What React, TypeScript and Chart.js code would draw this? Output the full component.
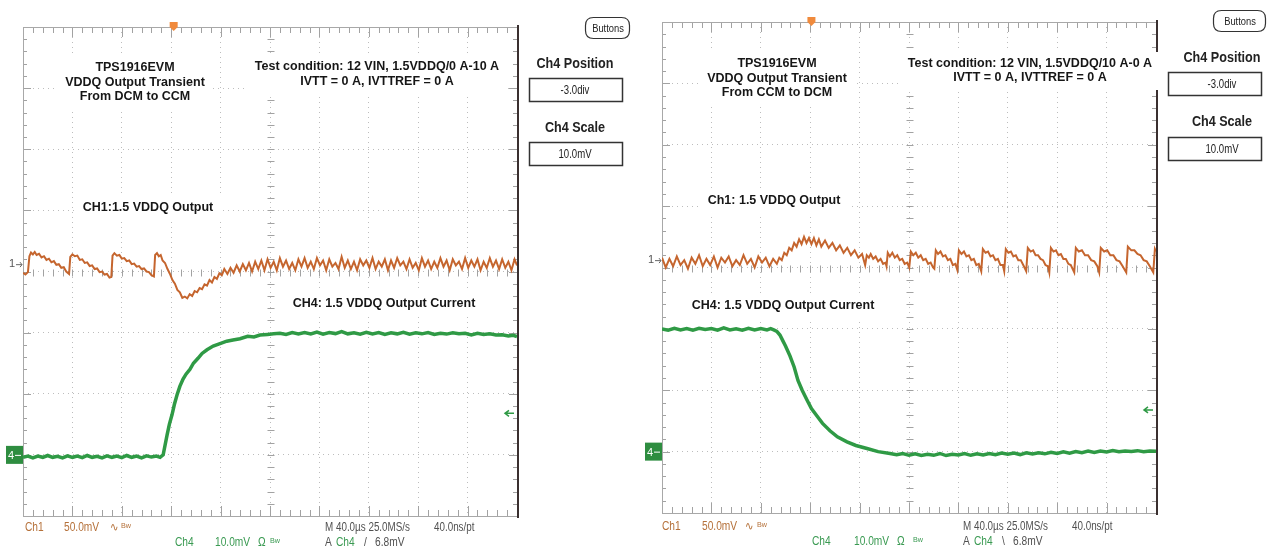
import { useEffect, useRef } from "react";
import { Chart, registerables } from "chart.js";

Chart.register(...registerables);

type Pt = [number, number];

// ---------- axis setup (oscilloscope screen) ----------
const TIME_RANGE_US: [number, number] = [0, 400]; // 40 µs/div, 10 div
const TIME_PER_DIV_US = 40;
const MINOR_PER_DIV = 5;
const DIVS_Y = 8;
const CH1_MV_PER_DIV = 50;
const CH4_A_PER_DIV = 5; // 10 A = 2 div
const CH4_POSITION_DIV = -3.0;
const TRIGGER_LEVEL_DIV = 0.68; // 6.8 mV at 10 mV/div

// ---------- data: [time µs, value] ----------
// Ch1 = VDDQ deviation in mV, Ch4 = output current in A
const leftCh1: Pt[] = [
  [0, -7], [2, -8.5], [4, -6.5], [5.2, 6.5], [6.5, 9.5], [8, 8], [9.5, 10], [11, 7.5], [13, 8.5], [15, 5.5], [17, 6.5], [19, 3.5], [21, 4.5], [23, 1.5], [25, 2.5], [27, -0.5], [29, 0], [31, -3], [33, -2.5], [35, -6], [37.3, -8],
  [38.3, 6], [40, 8], [42, 6.5], [44, 7], [46, 3.5], [48, 4], [50, 1], [52, 1.5], [54, -1.5], [56, -1], [58, -4], [60, -3.5], [62, -6.5], [64, -6], [66, -8.5], [68, -8], [70, -11], [71.5, -10.5],
  [72.5, 7], [74, 9], [76, 7], [78, 7.5], [80, 4.5], [82, 5], [84, 2.5], [86, 3], [88, 0], [90, 0.5], [92, -2], [94, -1.5], [96, -4], [98, -3.5], [100, -6], [102, -6.5], [104, -9], [106, -10],
  [107, 7.5], [108.5, 9], [110, 6.5], [111.5, 7.5], [113, 3], [115, 1], [117, -4], [119, -8], [121, -13], [123, -16], [125, -21], [127, -23], [129, -27.5], [131, -26.5], [133, -28], [135, -24.5], [137, -26], [139, -22], [141, -23], [143, -19.5], [145, -20.5], [147, -16.5], [149, -17.5], [151, -13], [153, -15], [155, -10.5], [157, -12], [159, -7.5], [161, -9],
  [163, -4], [165.5, -8], [168, -3], [170.5, -7], [173, -1], [175.5, -6], [178, 0], [180.5, -5], [183, 1], [185.5, -6], [188, 2], [190.5, -4], [193, 3], [195.5, -5], [198, 4], [200.5, -3], [203, 2], [205.5, -5], [208, 5], [210.5, -2], [213, 3], [215.5, -4], [218, 1], [220.5, -5], [223, 4], [225.5, -2], [228, 5], [230.5, -3], [233, 2], [235.5, -4], [238, 5], [240.5, -1], [243, 3], [245.5, -5], [248, 4], [250.5, -2], [253, 1], [255.5, -4], [258, 6], [260.5, -3], [263, 3], [265.5, -4], [268, 2], [270.5, -5], [273, 4], [275.5, -1], [278, 3], [280.5, -3], [283, 5], [285.5, -4], [288, 2], [290.5, -2], [293, 4], [295.5, -5], [298, 3], [300.5, -3], [303, 5], [305.5, -1], [308, 2], [310.5, -4], [313, 4], [315.5, -3], [318, 1], [320.5, -5], [323, 5], [325.5, -2], [328, 3], [330.5, -4], [333, 2], [335.5, -3], [338, 5], [340.5, -2], [343, 3], [345.5, -5], [348, 4], [350.5, -1], [353, 2], [355.5, -4], [358, 5], [360.5, -3], [363, 3], [365.5, -2], [368, 4], [370.5, -5], [373, 2], [375.5, -3], [378, 5], [380.5, -2], [383, 3], [385.5, -4], [388, 4], [390.5, -3], [393, 2], [395.5, -5], [398, 4], [400, -1],
];

const leftCh4: Pt[] = [
  [0, -0.2], [4, -0.1], [8, -0.25], [12, -0.1], [16, -0.2], [20, -0.05], [24, -0.2], [28, -0.12], [32, -0.25], [36, -0.08], [40, -0.2], [44, -0.1], [48, -0.22], [52, -0.05], [56, -0.2], [60, -0.12], [64, -0.25], [68, -0.08], [72, -0.2], [76, -0.1], [80, -0.22], [84, -0.05], [88, -0.2], [92, -0.1], [96, -0.25], [100, -0.08], [104, -0.18], [108, -0.1], [111, -0.2], [113.5, 0.0],
  [116.6, 1.6], [118.5, 2.5], [120.7, 3.3], [122.5, 4.1], [124.7, 4.9], [127, 5.6], [129.6, 6.2], [132, 6.6], [135.2, 7.0], [138, 7.5], [141.7, 7.9], [145, 8.3], [149, 8.6], [154, 8.9], [159.5, 9.1], [165, 9.3], [170, 9.4], [175.7, 9.5], [182, 9.7], [187, 9.65], [191.9, 9.8], [198, 9.85], [203, 9.9], [208, 9.95],
  [213, 9.85], [218, 10.0], [223, 9.9], [228, 10.0], [233, 9.9], [238, 10.05], [243, 9.88], [248, 10.0], [253, 9.92], [258, 10.08], [263, 9.9], [268, 9.98], [273, 9.88], [278, 10.02], [283, 9.9], [288, 10.0], [293, 9.85], [298, 9.98], [303, 9.9], [308, 10.02], [313, 9.88], [318, 9.98], [323, 9.9], [328, 10.0], [333, 9.85], [338, 9.95], [343, 9.88], [348, 9.98], [353, 9.9], [358, 9.95], [363, 9.82], [368, 9.95], [373, 9.85], [378, 9.9], [383, 9.8], [388, 9.82], [393, 9.72], [397, 9.78], [400, 9.68],
];

const rightCh1: Pt[] = [
  [0, 2], [3, -6], [6, 1], [9, -5], [12, 3], [15, -4], [18, 0], [21, -7], [24, 2], [27, -3], [30, 4], [33, -5], [36, 1], [39, -4], [42, 3], [45, -6], [48, 2], [51, -2], [54, 3], [57, -5], [60, 0], [63, -4], [66, 4], [69, -3], [72, 1], [75, -6], [78, 3], [81, -2], [84, 2], [87, -5], [90, 1], [93, -3],
  [95, 2], [97, 0], [99, 6], [101, 4], [103, 10], [105, 8], [107, 14], [109, 11], [111, 17], [113, 13], [115, 19], [117, 14], [119, 18], [121, 13], [123, 18], [125, 12], [127, 17], [129, 11], [132, 16], [135, 10], [138, 14], [141, 8], [144, 12], [147, 6], [150, 10], [153, 4], [156, 8], [159, 2], [162, 5],
  [164.5, -4], [165.8, 4], [167.5, 2], [169, 5], [171, 1], [173, 3], [175, -1], [177, 1], [179, -3], [181, -2], [181.8, -5],
  [182.8, 6], [184.5, 3], [186.5, 6], [188.5, 2], [190.5, 4], [192.5, 0], [194.5, 1], [196.5, -3], [198.5, -2], [200.2, -6],
  [201.5, 7], [203.5, 4], [205.5, 6], [207.5, 2], [209.5, 4], [211.5, 0], [213.5, 1], [215.5, -3], [217.5, -2], [219.5, -6], [220.5, -7],
  [221.7, 8], [223.5, 5], [225.5, 7], [227.5, 3], [229.5, 4], [231.5, 0], [233.5, 1], [235.5, -4], [237.5, -3], [239.1, -8],
  [240.4, 8], [242.5, 5], [244.5, 7], [246.5, 3], [248.5, 4], [250.5, 0], [252.5, 1], [254.5, -4], [256.5, -3], [258.5, -9],
  [259.8, 9], [262, 6], [264, 7], [266, 3], [268, 4], [270, 0], [272, 1], [274, -4], [276, -4], [277.1, -9],
  [278.4, 9], [280.5, 6], [282.5, 7], [284.5, 3], [286.5, 4], [288.5, 0], [290.5, 0], [292.5, -4], [294.9, -9],
  [296.2, 10], [298.5, 7], [300.5, 8], [302.5, 4], [304.5, 4], [306.5, 1], [308.5, 0], [310.5, -4], [312.5, -5], [313.6, -10],
  [314.9, 10], [317, 7], [319, 8], [321, 4], [323, 5], [325, 1], [327, 1], [329, -3], [331, -4], [333.8, -10],
  [335.1, 10], [337.5, 7], [340, 8], [342.5, 4], [345, 4], [347.5, 0], [350, -1], [352.5, -5], [354, -10],
  [355.3, 10], [358, 7], [360.5, 8], [363, 4], [365.5, 4], [368, 0], [370.5, -1], [373, -5], [375.9, -10],
  [377.2, 11], [380, 8], [382.5, 8], [385, 5], [387.5, 4], [390, 0], [392.5, -1], [395, -5], [397.8, -10],
  [399.1, 9], [400, 7],
];

const rightCh4: Pt[] = [
  [0, 10.0], [5, 9.9], [10, 10.05], [15, 9.92], [20, 10.02], [25, 9.9], [30, 10.05], [35, 9.95], [40, 10.02], [45, 9.9], [50, 10.08], [55, 9.92], [60, 10.0], [65, 9.9], [70, 10.05], [75, 9.92], [80, 10.02], [85, 9.92], [88, 10.02], [90.5, 9.92],
  [93, 9.8], [95.5, 9.5], [98, 9.0], [100, 8.6], [103.6, 7.8], [107, 6.9], [110.1, 5.8], [113.5, 5.0], [117.4, 4.2], [121, 3.5], [125.5, 2.9], [130, 2.3], [136, 1.7], [142, 1.2], [149.8, 0.8], [157, 0.5], [166, 0.25], [175, 0.0], [184.6, -0.15],
  [190, -0.25], [195, -0.15], [200, -0.3], [205, -0.18], [210, -0.32], [215, -0.22], [220, -0.3], [225, -0.15], [230, -0.32], [235, -0.22], [240, -0.28], [245, -0.15], [250, -0.3], [255, -0.18], [260, -0.27], [265, -0.15], [270, -0.25], [275, -0.12], [280, -0.22], [285, -0.12], [290, -0.24], [295, -0.1], [300, -0.2], [305, -0.1], [310, -0.18], [315, -0.05], [320, -0.15], [325, -0.02], [330, -0.12], [335, 0], [340, -0.08], [345, 0.05], [350, -0.06], [355, 0.05], [360, -0.03], [365, 0.08], [370, 0], [375, 0.06], [380, 0.02], [385, 0.08], [390, 0], [395, 0.06], [400, 0.04],
];

// ---------- text ----------
const leftTitle = ["TPS1916EVM", "VDDQ Output Transient", "From DCM to CCM"];
const rightTitle = ["TPS1916EVM", "VDDQ Output Transient", "From CCM to DCM"];
const leftCondition = ["Test condition: 12 VIN, 1.5VDDQ/0 A-10 A", "IVTT = 0 A, IVTTREF = 0 A"];
const rightCondition = ["Test condition: 12 VIN, 1.5VDDQ/10 A-0 A", "IVTT = 0 A, IVTTREF = 0 A"];
const leftCh1Label = "CH1:1.5 VDDQ Output";
const rightCh1Label = "Ch1: 1.5 VDDQ Output";
const ch4Label = "CH4: 1.5 VDDQ Output Current";
const sideLabels = { buttons: "Buttons", pos: "Ch4 Position", posVal: "-3.0div", scale: "Ch4 Scale", scaleVal: "10.0mV" };
const statusText = { ch1: "Ch1", v1: "50.0mV", cpl1: "∿", bw: "Bw", ch4: "Ch4", v4: "10.0mV", ohm: "Ω", m: "M 40.0µs 25.0MS/s", pt: "40.0ns/pt", a: "A", level: "6.8mV" };

const FONT = '"Liberation Sans", Arial, sans-serif';
const ORANGE = "#c5652e";
const GREEN = "#2f9a45";
const GRID = "#bdbdbd";
const W = 635;
const H = 548;

interface Panel {
  key: string;
  area: { l: number; t: number; r: number; b: number };
  ch1: Pt[];
  ch4: Pt[];
  ch1Pos: number;
  triggerUs: number;
  title: string[]; titleX: number; titleY: number; titleLh: number;
  cond: string[]; condX: number; condY: number; condLh: number;
  ch1Label: string; ch1LabelX: number; ch1LabelY: number;
  ch4LabelX: number; ch4LabelY: number;
  side: { cx: number; bx: number; by: number; bw: number; bh: number; posY: number; box1Y: number; scaleY: number; box2Y: number; boxX: number; boxW: number; boxH: number };
  st: { y1: number; y2: number; ch1: number; v1: number; cpl: number; bw1: number; ch4: number; v4: number; ohm: number; bw4: number; m: number; pt: number };
  slope: string;
}

const panels: Panel[] = [
  {
    key: "L", area: { l: 23, t: 27, r: 517, b: 516 }, ch1: leftCh1, ch4: leftCh4, ch1Pos: 0.12, triggerUs: 122,
    title: leftTitle, titleX: 135, titleY: 68, titleLh: 14.5,
    cond: leftCondition, condX: 377, condY: 67, condLh: 15,
    ch1Label: leftCh1Label, ch1LabelX: 148, ch1LabelY: 208,
    ch4LabelX: 384, ch4LabelY: 304,
    side: { cx: 575, bx: 585, by: 17, bw: 44, bh: 21, posY: 64, box1Y: 78, scaleY: 128, box2Y: 142, boxX: 529, boxW: 93, boxH: 23 },
    st: { y1: 528, y2: 543, ch1: 25, v1: 64, cpl: 110, bw1: 121, ch4: 175, v4: 215, ohm: 258, bw4: 270, m: 325, pt: 434 },
    slope: "/",
  },
  {
    key: "R", area: { l: 27, t: 22, r: 521, b: 513 }, ch1: rightCh1, ch4: rightCh4, ch1Pos: 0.12, triggerUs: 121,
    title: rightTitle, titleX: 142, titleY: 64, titleLh: 14.5,
    cond: rightCondition, condX: 395, condY: 64, condLh: 14,
    ch1Label: rightCh1Label, ch1LabelX: 139, ch1LabelY: 201,
    ch4LabelX: 148, ch4LabelY: 306,
    side: { cx: 587, bx: 578, by: 10, bw: 52, bh: 21, posY: 58, box1Y: 72, scaleY: 122, box2Y: 137, boxX: 533, boxW: 93, boxH: 23 },
    st: { y1: 527, y2: 542, ch1: 27, v1: 67, cpl: 110, bw1: 122, ch4: 177, v4: 219, ohm: 262, bw4: 278, m: 328, pt: 437 },
    slope: "\\",
  },
];

function txt(ctx: CanvasRenderingContext2D, s: string, x: number, y: number, font: string, color: string, align: CanvasTextAlign = "left", sx = 1) {
  ctx.save();
  ctx.font = font;
  ctx.fillStyle = color;
  ctx.textBaseline = "middle";
  ctx.textAlign = align;
  ctx.translate(x, y);
  ctx.scale(sx, 1);
  ctx.fillText(s, 0, 0);
  ctx.restore();
}

function block(ctx: CanvasRenderingContext2D, lines: string[], cx: number, y0: number, lh: number) {
  const font = `bold 12.5px ${FONT}`;
  ctx.save();
  ctx.font = font;
  const w = Math.max(...lines.map((l) => ctx.measureText(l).width));
  ctx.fillStyle = "#ffffff";
  ctx.fillRect(cx - w / 2 - 8, y0 - lh / 2 - 5, w + 16, lh * lines.length + 10);
  ctx.restore();
  lines.forEach((l, i) => txt(ctx, l, cx, y0 + i * lh, font, "#161616", "center"));
}

function roundRect(ctx: CanvasRenderingContext2D, x: number, y: number, w: number, h: number, r: number) {
  ctx.beginPath();
  ctx.moveTo(x + r, y);
  ctx.lineTo(x + w - r, y);
  ctx.quadraticCurveTo(x + w, y, x + w, y + r);
  ctx.lineTo(x + w, y + h - r);
  ctx.quadraticCurveTo(x + w, y + h, x + w - r, y + h);
  ctx.lineTo(x + r, y + h);
  ctx.quadraticCurveTo(x, y + h, x, y + h - r);
  ctx.lineTo(x, y + r);
  ctx.quadraticCurveTo(x, y, x + r, y);
  ctx.closePath();
}

function scopePlugin(p: Panel) {
  return {
    id: "scope" + p.key,
    beforeDatasetsDraw(chart: any) {
      const ctx: CanvasRenderingContext2D = chart.ctx;
      const xs = chart.scales.x;
      const yg = chart.scales.yg;
      const { left, right, top, bottom } = chart.chartArea;
      ctx.save();
      // minor/major ticks on frame and centre axes
      ctx.strokeStyle = "#a2a2a2";
      ctx.lineWidth = 1;
      ctx.beginPath();
      const cy = Math.round(yg.getPixelForValue(0)) + 0.5;
      const cx = Math.round(xs.getPixelForValue((TIME_RANGE_US[0] + TIME_RANGE_US[1]) / 2)) + 0.5;
      const nx = ((TIME_RANGE_US[1] - TIME_RANGE_US[0]) / TIME_PER_DIV_US) * MINOR_PER_DIV;
      for (let i = 0; i <= nx; i++) {
        const px = Math.round(xs.getPixelForValue(TIME_RANGE_US[0] + (i * TIME_PER_DIV_US) / MINOR_PER_DIV)) + 0.5;
        const len = i % MINOR_PER_DIV === 0 ? 10 : 6;
        ctx.moveTo(px, top); ctx.lineTo(px, top + len);
        ctx.moveTo(px, bottom); ctx.lineTo(px, bottom - len);
        ctx.moveTo(px, cy - 3); ctx.lineTo(px, cy + 4);
      }
      const ny = DIVS_Y * MINOR_PER_DIV;
      for (let j = 0; j <= ny; j++) {
        const py = Math.round(yg.getPixelForValue(-DIVS_Y / 2 + j / MINOR_PER_DIV)) + 0.5;
        const len = j % MINOR_PER_DIV === 0 ? 8 : 4;
        ctx.moveTo(left, py); ctx.lineTo(left + len, py);
        ctx.moveTo(right, py); ctx.lineTo(right - len, py);
        ctx.moveTo(cx - 3, py); ctx.lineTo(cx + 4, py);
      }
      ctx.stroke();
      // frame
      ctx.strokeStyle = "#a8a8a8";
      ctx.beginPath();
      ctx.moveTo(left + 0.5, top); ctx.lineTo(left + 0.5, bottom);
      ctx.moveTo(left, top + 0.5); ctx.lineTo(right, top + 0.5);
      ctx.moveTo(left, bottom + 0.5); ctx.lineTo(right, bottom + 0.5);
      ctx.stroke();
      ctx.strokeStyle = "#3a3030";
      ctx.lineWidth = 2;
      ctx.beginPath();
      ctx.moveTo(right + 1, top - 2); ctx.lineTo(right + 1, bottom + 2);
      ctx.stroke();
      ctx.restore();

      // annotations
      block(ctx, p.title, p.titleX, p.titleY, p.titleLh);
      block(ctx, p.cond, p.condX, p.condY, p.condLh);
      block(ctx, [p.ch1Label], p.ch1LabelX, p.ch1LabelY, 15);
      block(ctx, [ch4Label], p.ch4LabelX, p.ch4LabelY, 15);
    },
    afterDatasetsDraw(chart: any) {
      const ctx: CanvasRenderingContext2D = chart.ctx;
      const xs = chart.scales.x;
      const y1 = chart.scales.y1;
      const y4 = chart.scales.y4;
      const { left, right, top } = chart.chartArea;
      ctx.save();
      // trigger position marker
      const tx = xs.getPixelForValue(p.triggerUs);
      ctx.fillStyle = "#f08a3c";
      ctx.beginPath();
      ctx.moveTo(tx - 4, top - 5); ctx.lineTo(tx + 4, top - 5); ctx.lineTo(tx + 4, top); ctx.lineTo(tx, top + 4); ctx.lineTo(tx - 4, top);
      ctx.closePath();
      ctx.fill();
      // ch1 ground marker
      const g1 = y1.getPixelForValue(0);
      txt(ctx, "1", left - 11, g1, `11px ${FONT}`, "#555", "center");
      ctx.strokeStyle = "#666";
      ctx.lineWidth = 1;
      ctx.beginPath();
      ctx.moveTo(left - 7, g1 + 0.5); ctx.lineTo(left - 1, g1 + 0.5);
      ctx.moveTo(left - 3, g1 - 2); ctx.lineTo(left - 1, g1 + 0.5); ctx.lineTo(left - 3, g1 + 3);
      ctx.stroke();
      // ch4 ground marker
      const g4 = y4.getPixelForValue(0);
      ctx.fillStyle = "#2e8d40";
      ctx.fillRect(left - 17, g4 - 9, 17, 18);
      txt(ctx, "4", left - 12, g4 + 1, `11px ${FONT}`, "#ffffff", "center");
      ctx.strokeStyle = "#ffffff";
      ctx.beginPath();
      ctx.moveTo(left - 8, g4 + 0.5); ctx.lineTo(left - 2, g4 + 0.5);
      ctx.stroke();
      // trigger level arrow
      const tl = y4.getPixelForValue(TRIGGER_LEVEL_DIV * CH4_A_PER_DIV);
      ctx.strokeStyle = GREEN;
      ctx.lineWidth = 1.5;
      ctx.beginPath();
      ctx.moveTo(right - 12, tl); ctx.lineTo(right - 3, tl);
      ctx.moveTo(right - 8, tl - 3); ctx.lineTo(right - 12, tl); ctx.lineTo(right - 8, tl + 3);
      ctx.stroke();

      // side panel
      const s = p.side;
      ctx.strokeStyle = "#333";
      ctx.lineWidth = 1.2;
      roundRect(ctx, s.bx + 0.5, s.by + 0.5, s.bw, s.bh, 8);
      ctx.stroke();
      txt(ctx, sideLabels.buttons, s.bx + s.bw / 2 + 1, s.by + s.bh / 2 + 1, `11px ${FONT}`, "#222", "center", 0.85);
      txt(ctx, sideLabels.pos, s.cx, s.posY, `bold 14px ${FONT}`, "#222", "center", 0.9);
      ctx.lineWidth = 1.5;
      ctx.strokeRect(s.boxX + 0.5, s.box1Y + 0.5, s.boxW, s.boxH);
      txt(ctx, sideLabels.posVal, s.cx, s.box1Y + s.boxH / 2 + 1, `12px ${FONT}`, "#222", "center", 0.8);
      txt(ctx, sideLabels.scale, s.cx, s.scaleY, `bold 14px ${FONT}`, "#222", "center", 0.9);
      ctx.strokeRect(s.boxX + 0.5, s.box2Y + 0.5, s.boxW, s.boxH);
      txt(ctx, sideLabels.scaleVal, s.cx, s.box2Y + s.boxH / 2 + 1, `12px ${FONT}`, "#222", "center", 0.8);

      // status line
      const st = p.st;
      const f = `12px ${FONT}`;
      const fs = `8px ${FONT}`;
      const c1 = "#b5713a";
      const c4 = "#3a9a52";
      const cm = "#505050";
      txt(ctx, statusText.ch1, st.ch1, st.y1, f, c1, "left", 0.85);
      txt(ctx, statusText.v1, st.v1, st.y1, f, c1, "left", 0.85);
      txt(ctx, statusText.cpl1, st.cpl, st.y1, f, c1, "left", 0.85);
      txt(ctx, statusText.bw, st.bw1, st.y1 - 2, fs, c1, "left", 0.9);
      txt(ctx, statusText.ch4, st.ch4, st.y2, f, c4, "left", 0.85);
      txt(ctx, statusText.v4, st.v4, st.y2, f, c4, "left", 0.85);
      txt(ctx, statusText.ohm, st.ohm, st.y2, f, c4, "left", 0.85);
      txt(ctx, statusText.bw, st.bw4, st.y2 - 2, fs, c4, "left", 0.9);
      txt(ctx, statusText.m, st.m, st.y1, f, cm, "left", 0.82);
      txt(ctx, statusText.pt, st.pt, st.y1, f, cm, "left", 0.82);
      txt(ctx, statusText.a, st.m, st.y2, f, cm, "left", 0.85);
      txt(ctx, statusText.ch4, st.m + 11, st.y2, f, c4, "left", 0.85);
      txt(ctx, p.slope, st.m + 39, st.y2, f, cm, "left", 0.85);
      txt(ctx, statusText.level, st.m + 50, st.y2, f, cm, "left", 0.85);
      ctx.restore();
    },
  };
}

function makeChart(canvas: HTMLCanvasElement, p: Panel) {
  const a = p.area;
  const hiddenAxis = (s: any, horiz: boolean) => {
    if (horiz) s.height = 0;
    else s.width = 0;
  };
  return new Chart(canvas, {
    type: "line",
    data: {
      datasets: [
        {
          label: "Ch1: 1.5 VDDQ Output",
          data: p.ch1.map(([x, y]) => ({ x, y })),
          yAxisID: "y1",
          borderColor: ORANGE,
          borderWidth: 2,
          pointRadius: 0,
          tension: 0,
        },
        {
          label: "CH4: 1.5 VDDQ Output Current",
          data: p.ch4.map(([x, y]) => ({ x, y })),
          yAxisID: "y4",
          borderColor: GREEN,
          borderWidth: 3.5,
          pointRadius: 0,
          tension: 0,
        },
      ],
    },
    options: {
      responsive: false,
      animation: false,
      events: [],
      layout: { padding: { left: a.l, top: a.t, right: W - a.r, bottom: H - a.b } },
      plugins: { legend: { display: false }, tooltip: { enabled: false }, title: { display: false } },
      scales: {
        x: {
          type: "linear",
          position: "bottom",
          min: TIME_RANGE_US[0],
          max: TIME_RANGE_US[1],
          ticks: { display: false, stepSize: TIME_PER_DIV_US },
          grid: { color: GRID, drawTicks: false, lineWidth: 1 },
          border: { display: false, dash: [1, 4] },
          afterFit: (s: any) => hiddenAxis(s, true),
        },
        yg: {
          type: "linear",
          position: "left",
          min: -DIVS_Y / 2,
          max: DIVS_Y / 2,
          ticks: { display: false, stepSize: 1 },
          grid: { color: GRID, drawTicks: false, lineWidth: 1 },
          border: { display: false, dash: [1, 4] },
          afterFit: (s: any) => hiddenAxis(s, false),
        },
        y1: {
          type: "linear",
          display: false,
          min: (-DIVS_Y / 2 - p.ch1Pos) * CH1_MV_PER_DIV,
          max: (DIVS_Y / 2 - p.ch1Pos) * CH1_MV_PER_DIV,
        },
        y4: {
          type: "linear",
          display: false,
          min: (-DIVS_Y / 2 - CH4_POSITION_DIV) * CH4_A_PER_DIV,
          max: (DIVS_Y / 2 - CH4_POSITION_DIV) * CH4_A_PER_DIV,
        },
      },
    } as any,
    plugins: [scopePlugin(p)],
  });
}

export default function App() {
  const leftRef = useRef<HTMLCanvasElement>(null);
  const rightRef = useRef<HTMLCanvasElement>(null);
  useEffect(() => {
    const charts = [makeChart(leftRef.current!, panels[0]), makeChart(rightRef.current!, panels[1])];
    return () => charts.forEach((c) => c.destroy());
  }, []);
  return (
    <div style={{ position: "absolute", left: 0, top: 0, width: 1270, height: 548, background: "#fff", overflow: "hidden" }}>
      <canvas ref={leftRef} width={W} height={H} style={{ position: "absolute", left: 0, top: 0 }} />
      <canvas ref={rightRef} width={W} height={H} style={{ position: "absolute", left: W, top: 0 }} />
    </div>
  );
}
